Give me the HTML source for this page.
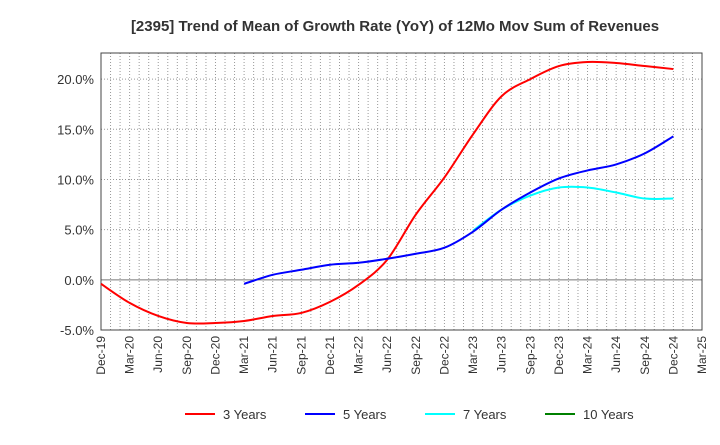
<!DOCTYPE html>
<html><head><meta charset="utf-8"><style>
body{margin:0;background:#fff;}
svg text{font-family:"Liberation Sans",sans-serif;fill:#333;}
</style></head><body>
<svg id="c" width="720" height="440" xmlns="http://www.w3.org/2000/svg">
<text x="395" y="31" text-anchor="middle" font-size="15" font-weight="bold">[2395]  Trend of Mean of Growth Rate (YoY) of 12Mo Mov Sum of Revenues</text>
<g id="grid"></g><g id="axes"></g><g id="series"></g><g id="legend"></g>
</svg>
<script>
const xLabels=["Dec-19","Mar-20","Jun-20","Sep-20","Dec-20","Mar-21","Jun-21","Sep-21","Dec-21","Mar-22","Jun-22","Sep-22","Dec-22","Mar-23","Jun-23","Sep-23","Dec-23","Mar-24","Jun-24","Sep-24","Dec-24","Mar-25"];
const yTicks=[-5,0,5,10,15,20];
const red=[-0.4,-2.3,-3.6,-4.3,-4.3,-4.1,-3.6,-3.3,-2.2,-0.5,2.0,6.5,10.2,14.5,18.3,20.0,21.3,21.7,21.6,21.3,21.0];
const blue=[null,null,null,null,null,-0.4,0.5,1.0,1.5,1.7,2.1,2.6,3.2,4.8,7.0,8.7,10.1,10.9,11.5,12.6,14.3];
const cyan=[null,null,null,null,null,null,null,null,null,null,null,null,null,4.9,7.0,8.4,9.2,9.2,8.7,8.1,8.1];
const green=[];
const NS="http://www.w3.org/2000/svg";
const L=101,R=702,T=53,B=330,yMin=-5,yMax=22.6;
const x=i=>L+(R-L)*i/(xLabels.length-1);
const y=v=>B-(B-T)*(v-yMin)/(yMax-yMin);
function mk(tag,attrs,parent){const e=document.createElementNS(NS,tag);for(const k in attrs)e.setAttribute(k,attrs[k]);parent.appendChild(e);return e;}
const grid=document.getElementById('grid'),axes=document.getElementById('axes'),ser=document.getElementById('series'),leg=document.getElementById('legend');
const nMonths=(xLabels.length-1)*3;
for(let m=1;m<nMonths;m++){const xx=L+(R-L)*m/nMonths;
const g=mk('line',{x1:xx,x2:xx,y1:T,y2:B,stroke:'#999','stroke-dasharray':'1,2','stroke-width':1},grid);

}
yTicks.forEach(v=>{const yy=y(v);
const g=mk('line',{x1:L,x2:R,y1:yy,y2:yy,stroke:v===0?'#777':'#999','stroke-dasharray':v===0?'':'1,2','stroke-width':1},grid);


const t=mk('text',{x:L-7,y:yy+5,'text-anchor':'end','font-size':13},axes);t.textContent=v.toFixed(1)+'%';

});
const fr=mk('rect',{x:L,y:T,width:R-L,height:B-T,fill:'none',stroke:'#444','stroke-width':1},axes);


xLabels.forEach((s,i)=>{const t=mk('text',{transform:`translate(${x(i)+4},${B+6}) rotate(-90)`,'text-anchor':'end','font-size':12},axes);t.textContent=s;

});
function path(arr,color,name){const pts=[];arr.forEach((v,i)=>{if(v!==null&&v!==undefined)pts.push([x(i),y(v)]);});
if(pts.length<2)return;let d=`M${pts[0][0]},${pts[0][1]}`;
for(let i=0;i<pts.length-1;i++){const p0=pts[i-1]||pts[i],p1=pts[i],p2=pts[i+1],p3=pts[i+2]||p2;
d+=` C${p1[0]+(p2[0]-p0[0])/6},${p1[1]+(p2[1]-p0[1])/6} ${p2[0]-(p3[0]-p1[0])/6},${p2[1]-(p3[1]-p1[1])/6} ${p2[0]},${p2[1]}`;}
const p=mk('path',{d:d,fill:'none',stroke:color,'stroke-width':2},ser);

}
path(red,'#ff0000','line-3-years');path(cyan,'#00ffff','line-7-years');path(blue,'#0000ff','line-5-years');path(green,'#008000','line-10-years');
[["3 Years","#ff0000",185],["5 Years","#0000ff",305],["7 Years","#00ffff",425],["10 Years","#008000",545]].forEach(([s,c,lx])=>{
const g=mk('g',{},leg);


mk('line',{x1:lx,x2:lx+30,y1:414,y2:414,stroke:c,'stroke-width':2},g);
const t=mk('text',{x:lx+38,y:419,'font-size':13},g);t.textContent=s;});
</script>
</body></html>
